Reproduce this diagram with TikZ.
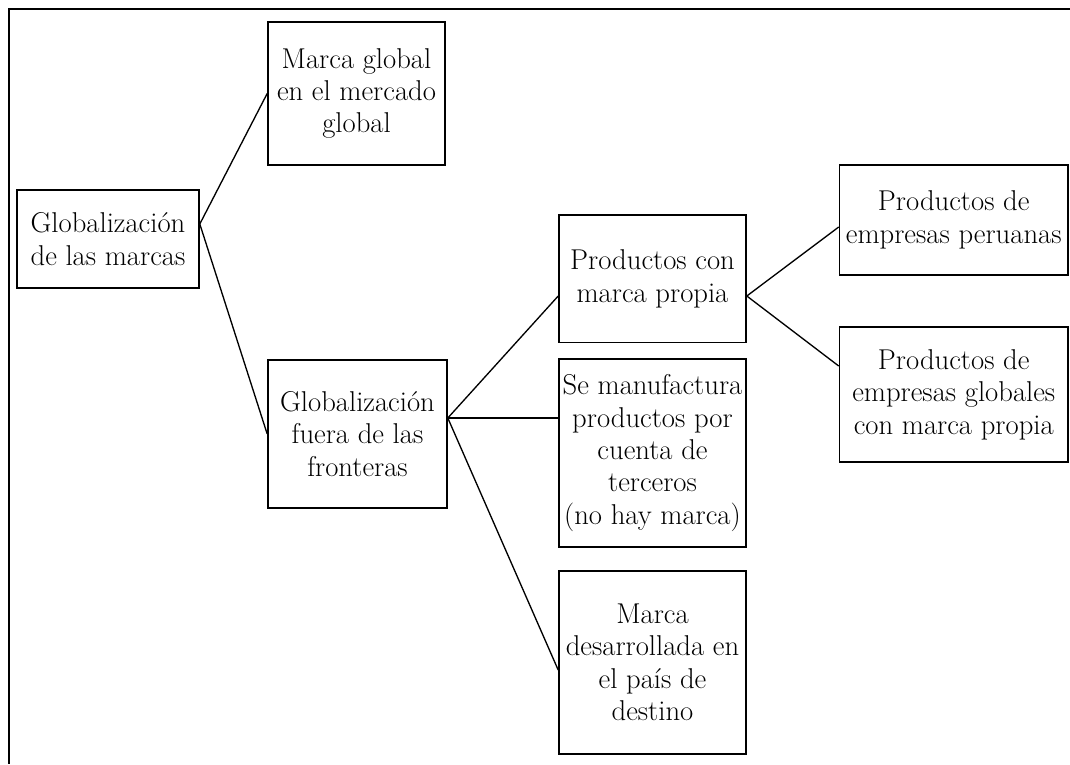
\documentclass[tikz,border=0pt]{standalone}
\usetikzlibrary{calc}
\begin{document}
\begin{tikzpicture}[x=0.75pt,y=-0.75pt,
  box/.style={draw, line width=1.2pt, inner sep=0pt, align=center,
    font=\fontsize{21.5}{24.3}\selectfont},
  conn/.style={line width=1pt},
  frame/.style={line width=1.5pt}]
\useasboundingbox (0,0) rectangle (1070,764);
\draw[frame] (1070,9) -- (8.5,9) -- (8.5,764);
% nodes (centers in px, y downward)
\node[box, minimum width=182*0.75pt, minimum height=98*0.75pt] (A) at (108,239) {Globalización\\de las marcas};
\node[box, minimum width=177*0.75pt, minimum height=143*0.75pt] (B) at (356.5,93.5) {Marca global\\en el mercado\\global};
\node[box, minimum width=179*0.75pt, minimum height=148*0.75pt] (C) at (357.5,434) {Globalización\\fuera de las\\fronteras};
\node[box, minimum width=187*0.75pt, minimum height=127.5*0.75pt] (D) at (652.5,278.75) {Productos con\\marca propia};
\node[box, minimum width=187*0.75pt, minimum height=188*0.75pt] (E) at (652.5,453) {Se manufactura\\productos por\\cuenta de\\terceros\\(no hay marca)};
\node[box, minimum width=187*0.75pt, minimum height=183*0.75pt] (F) at (652.5,662.5) {Marca\\desarrollada en\\el país de\\destino};
\node[box, minimum width=228.5*0.75pt, minimum height=110*0.75pt] (G) at (953.75,220) {Productos de\\empresas peruanas};
\node[box, minimum width=228.5*0.75pt, minimum height=135*0.75pt] (H) at (953.75,394.5) {Productos de\\empresas globales\\con marca propia};
% attachment points
\coordinate (Aj) at ($(A.east)+(0,-15)$);
\coordinate (Cj) at ($(C.east)+(0,-16)$);
\coordinate (Dw) at ($(D.west)+(0,17.25)$);
\coordinate (Ew) at ($(E.west)+(0,-35)$);
\coordinate (Fw) at ($(F.west)+(0,7.5)$);
\coordinate (Dj) at ($(D.east)+(0,17.25)$);
\coordinate (Gw) at ($(G.west)+(0,7)$);
\coordinate (Hw) at ($(H.west)+(0,-28.5)$);
% connectors
\draw[conn] (Aj) -- (B.west);
\draw[conn] (Aj) -- (C.west);
\draw[conn] (Cj) -- (Dw);
\draw[conn] (Cj) -- (Ew);
\draw[conn] (Cj) -- (Fw);
\draw[conn] (Dj) -- (Gw);
\draw[conn] (Dj) -- (Hw);
\end{tikzpicture}
\end{document}
